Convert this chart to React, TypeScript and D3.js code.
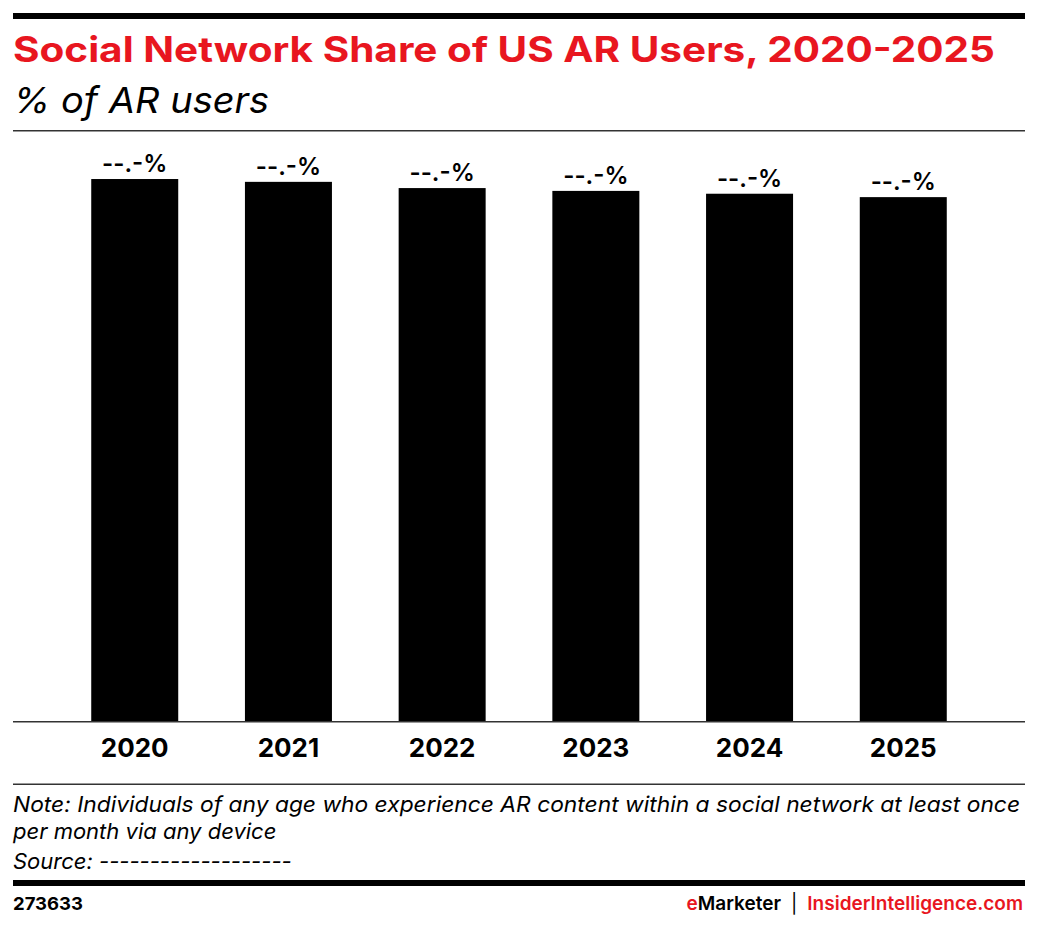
import React from "react";
import * as d3 from "d3";

const years = ["2020", "2021", "2022", "2023", "2024", "2025"];
const shares = [96.0, 95.5, 94.4, 93.9, 93.4, 92.8];
const valueLabels = ["--.-%", "--.-%", "--.-%", "--.-%", "--.-%", "--.-%"];

const W = 1038;
const H = 928;
const RED = "#e8161f";
const FONT = "Inter, 'Open Sans', sans-serif";

export default function App() {
  const x = d3
    .scaleBand<string>()
    .domain(years)
    .range([13, 1025])
    .paddingInner(0.434)
    .paddingOuter(0.509);
  const y = d3.scaleLinear().domain([0, 100]).range([722, 156.4]);

  return (
    <svg
      width={W}
      height={H}
      style={{ position: "absolute", left: 0, top: 0, background: "#fff" }}
      fontFamily={FONT}
    >
      <rect x={13} y={13} width={1012} height={6} fill="#000" />
      <text x={13} y={62} fill={RED} fontSize={35} fontWeight={700} textLength={982} lengthAdjust="spacingAndGlyphs">
        Social Network Share of US AR Users, 2020-2025
      </text>
      <text x={13} y={113} fill="#000" fontSize={36} fontStyle="italic" fontWeight={400} textLength={256} lengthAdjust="spacingAndGlyphs">
        % of AR users
      </text>
      <rect x={13} y={130} width={1012} height={1.5} fill="#333" />

      {years.map((yr, i) => (
        <g key={yr}>
          <rect
            x={x(yr)}
            y={y(shares[i])}
            width={x.bandwidth()}
            height={y(0) - y(shares[i])}
            fill="#000"
          />
          <text
            x={(x(yr) as number) + x.bandwidth() / 2}
            y={y(shares[i]) - 7}
            textAnchor="middle"
            fontSize={24}
            fontWeight={600}
            fill="#000"
          >
            {valueLabels[i]}
          </text>
          <text
            x={(x(yr) as number) + x.bandwidth() / 2}
            y={757}
            textAnchor="middle"
            fontSize={26}
            fontWeight={700}
            fill="#000"
          >
            {yr}
          </text>
        </g>
      ))}
      <rect x={13} y={721} width={1012} height={1.5} fill="#333" />

      <rect x={13} y={783.5} width={1012} height={1.5} fill="#333" />
      <g fontSize={22} fontStyle="italic" fill="#000">
        <text x={13} y={812} textLength={1007} lengthAdjust="spacingAndGlyphs">
          Note: Individuals of any age who experience AR content within a social network at least once
        </text>
        <text x={13} y={839}>per month via any device</text>
        <text x={13} y={869}>Source: -------------------</text>
      </g>
      <rect x={13} y={880} width={1012} height={6} fill="#000" />
      <text x={13} y={910} fontSize={18} fontWeight={700} fill="#000" textLength={70} lengthAdjust="spacingAndGlyphs">
        273633
      </text>
      <text x={1023} y={910} fontSize={19} fontWeight={600} textAnchor="end">
        <tspan fill={RED}>e</tspan>
        <tspan fill="#000">Marketer</tspan>
        <tspan fill="#000" dx={10} fontWeight={400}>|</tspan>
        <tspan fill={RED} dx={10}>InsiderIntelligence.com</tspan>
      </text>
    </svg>
  );
}
